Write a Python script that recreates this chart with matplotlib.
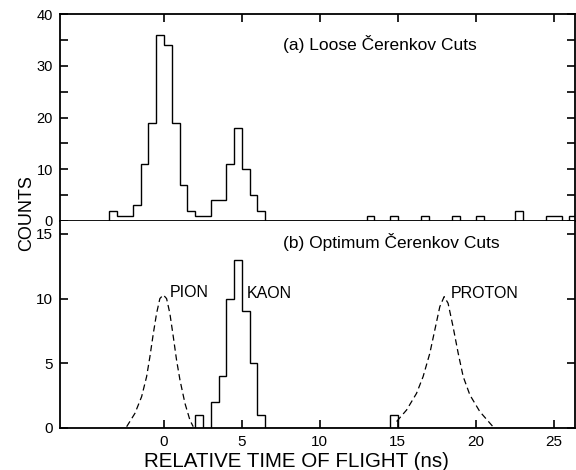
import numpy as np
import matplotlib
matplotlib.use('Agg')
from matplotlib import pyplot as plt

plt.rcParams['font.family'] = ['Liberation Sans', 'DejaVu Sans']

# (a) loose cuts: left edge of each non-empty 0.5 ns bin and its count
top_lo = [-3.5, -3.0, -2.5, -2.0, -1.5, -1.0, -0.5, 0.0, 0.5, 1.0, 1.5, 2.0, 2.5,
          3.0, 3.5, 4.0, 4.5, 5.0, 5.5, 6.0, 13.0, 14.5, 16.5, 18.5, 20.0, 22.5,
          24.5, 25.0, 26.0]
top_counts = [2, 1, 1, 3, 11, 19, 36, 34, 19, 7, 2, 1, 1,
              4, 4, 11, 18, 10, 5, 2, 1, 1, 1, 1, 1, 2,
              1, 1, 1]

# (b) optimum cuts
bot_lo = [2.0, 3.0, 3.5, 4.0, 4.5, 5.0, 5.5, 6.0, 14.5]
bot_counts = [1, 2, 4, 10, 13, 9, 5, 1, 1]

# expected shapes (dashed)
pion_t = [-2.39, -1.86, -1.43, -1.11, -0.90, -0.68, -0.47, -0.26, -0.04, 0.17,
          0.38, 0.60, 0.81, 1.03, 1.35, 1.67, 1.88]
pion_n = [0.1, 1.13, 2.42, 3.97, 5.5, 7.3, 8.86, 10.0, 10.28, 10.0,
          8.86, 7.06, 5.25, 3.7, 1.9, 0.6, 0.1]
proton_t = [14.92, 15.56, 16.2, 16.62, 17.05, 17.37, 17.69, 17.97, 18.22, 18.54,
            18.87, 19.19, 19.62, 20.26, 21.1]
proton_n = [0.5, 1.39, 2.68, 3.97, 5.77, 7.57, 9.37, 10.15, 9.64, 7.83,
            5.77, 3.97, 2.55, 1.26, 0.1]

edges = np.arange(-3.5, 27.01, 0.5)


def to_hist(lo, counts):
    h = np.zeros(len(edges) - 1)
    for l, c in zip(lo, counts):
        h[int(round((l - edges[0]) / 0.5))] = c
    return h


fig = plt.figure(figsize=(5.76, 4.70), dpi=100)
ax1 = fig.add_axes([0.104, 0.530, 0.894, 0.440])
ax2 = fig.add_axes([0.104, 0.0894, 0.894, 0.4406])

ax1.stairs(to_hist(top_lo, top_counts), edges, color='black', lw=1.0)
ax2.stairs(to_hist(bot_lo, bot_counts), edges, color='black', lw=1.0)
ax2.plot(pion_t, pion_n, 'k--', lw=0.9, dashes=(5, 3))
ax2.plot(proton_t, proton_n, 'k--', lw=0.9, dashes=(5, 3))

for ax in (ax1, ax2):
    ax.set_xlim(-6.67, 26.35)
    for s in ax.spines.values():
        s.set_linewidth(1.3)
    ax.tick_params(direction='in', length=6, width=1.2, labelsize=10.5, pad=5)

ax1.set_ylim(0, 40)
ax1.set_yticks([0, 10, 20, 30, 40])
ax1.set_yticks([5, 15, 25, 35], minor=True)
ax1.tick_params(which='both', direction='in', length=6, width=1.2,
                top=True, right=True, bottom=False, labelbottom=False)
ax1.set_xticks([0, 5, 10, 15, 20, 25])

ax2.set_ylim(0, 16)
ax2.set_yticks([0, 5, 10, 15])
ax2.set_xticks([0, 5, 10, 15, 20, 25])
ax2.tick_params(right=True, top=False, labelsize=11)
ax2.spines['top'].set_visible(False)

ax1.text(7.63, 34.2, '(a) Loose Čerenkov Cuts', fontsize=12.5, va='center')
ax2.text(7.63, 14.35, '(b) Optimum Čerenkov Cuts', fontsize=12.5, va='center')
ax2.text(0.38, 10.5, 'PION', fontsize=11.5, va='center')
ax2.text(5.3, 10.4, 'KAON', fontsize=11.5, va='center')
ax2.text(18.4, 10.4, 'PROTON', fontsize=11.5, va='center')

fig.text(0.046, 0.547, 'COUNTS', rotation=90, ha='center', va='center', fontsize=13)
fig.text(0.515, 0.018, 'RELATIVE TIME OF FLIGHT (ns)', ha='center', va='center',
         fontsize=14.8)

plt.savefig('out.png', dpi=100)
